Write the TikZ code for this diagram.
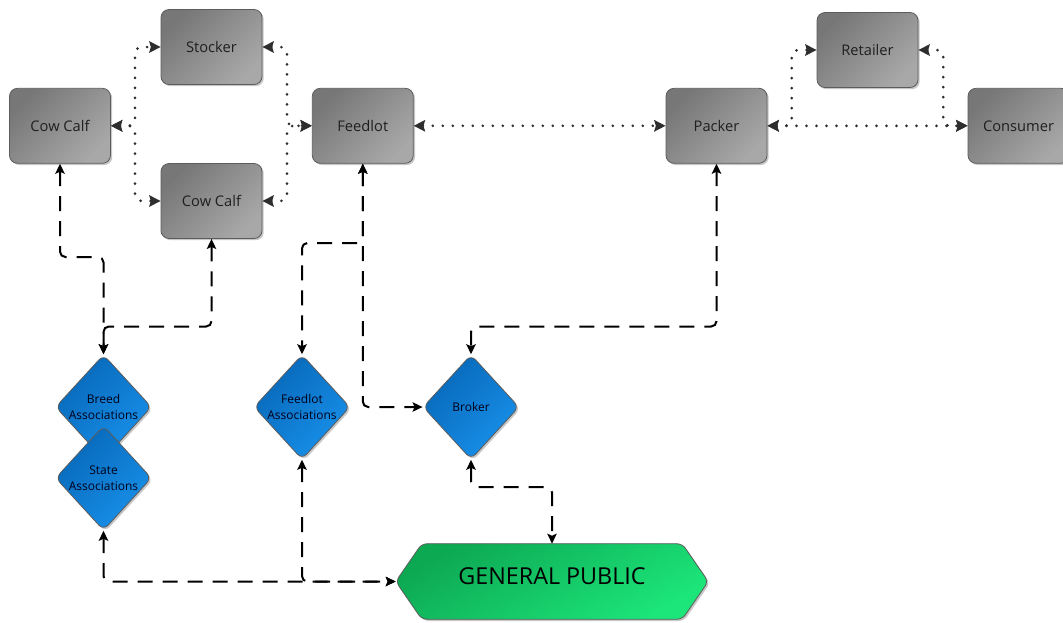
\documentclass[tikz,border=0pt]{standalone}
\usepackage{fontspec}
\setmainfont{Open Sans}
\usetikzlibrary{arrows.meta,shapes.geometric,shadows,calc}
\definecolor{boxdark}{HTML}{777777}
\definecolor{boxlight}{HTML}{A8A8A8}
\definecolor{diadark}{HTML}{0768B8}
\definecolor{dialight}{HTML}{1890EA}
\definecolor{gpdark}{HTML}{0DA852}
\definecolor{gplight}{HTML}{1CE67A}
\definecolor{edgegray}{HTML}{5C5C5C}
\definecolor{dotgray}{HTML}{2E2E2E}
\begin{document}
\begin{tikzpicture}[x=0.75pt,y=-0.75pt,
  gbox/.style={rectangle, rounded corners=6pt, draw=edgegray, line width=0.6pt,
    top color=boxdark, bottom color=boxlight, shading angle=45,
    minimum width=75.75pt, minimum height=56.25pt, inner sep=0pt,
    font=\fontsize{11}{13}\selectfont, text=black!88,
    drop shadow={shadow xshift=1.3pt, shadow yshift=-1.3pt, opacity=0.22, fill=black}},
  dia/.style={diamond, rounded corners=5pt, draw=edgegray, line width=0.6pt,
    top color=diadark, bottom color=dialight, shading angle=45,
    minimum width=72pt, minimum height=78.5pt, inner sep=0pt,
    drop shadow={shadow xshift=1.3pt, shadow yshift=-1.3pt, opacity=0.22, fill=black}},
  diatext/.style={align=center, font=\fontsize{9}{12}\selectfont, text=black!90!blue, inner sep=0pt},
  dotlink/.style={draw=dotgray, line width=2.2pt, line cap=round,
    dash pattern=on 0pt off 7.5pt, rounded corners=5pt,
    {Stealth[length=8.5pt,width=8.5pt,inset=1.2pt]}-{Stealth[length=8.5pt,width=8.5pt,inset=1.2pt]}},
  dashlink/.style={draw=black, line width=1.5pt,
    dash pattern=on 11.25pt off 7.5pt, rounded corners=4pt,
    {Stealth[length=7.5pt,width=7pt,inset=1.5pt]}-{Stealth[length=7.5pt,width=7pt,inset=1.5pt]}},
  gpshape/.style={draw=edgegray, line width=0.6pt, rounded corners=4pt,
    top color=gpdark, bottom color=gplight, shading angle=30,
    drop shadow={shadow xshift=1.3pt, shadow yshift=-1.3pt, opacity=0.22, fill=black}}
]
\useasboundingbox (0,0) rectangle (1063,622);
\clip (0,0) rectangle (1063,622);

% boxes
\node[gbox] (cc1) at (60,125.8) {Cow Calf};
\node[gbox] (st)  at (211.5,47) {Stocker};
\node[gbox] (cc2) at (211.5,201) {Cow Calf};
\node[gbox] (fl)  at (362.8,125.8) {Feedlot};
\node[gbox] (pk)  at (716.5,125.8) {Packer};
\node[gbox] (rt)  at (867.5,50) {Retailer};
\node[gbox] (cs)  at (1018.5,125.8) {Consumer};

% diamonds
\node[dia] (br) at (103.5,407) {};
\node[diatext] (brT) at (br) {Breed\\Associations};
\node[dia] (sa) at (103.5,478) {};
\node[diatext] (saT) at (sa) {State\\Associations};
\node[dia] (fa) at (302,407) {};
\node[diatext] (faT) at (fa) {Feedlot\\Associations};
\node[dia] (bk) at (471,407) {};
\node[diatext] (bkT) at (bk) {Broker};

% general public hexagon
\node[minimum width=234pt, minimum height=56.25pt, inner sep=0pt] (gp) at (552,581.5) {};
\path[gpshape] (gp.west) -- ($(gp.north west)+(26,0)$) -- ($(gp.north east)+(-26,0)$)
  -- (gp.east) -- ($(gp.south east)+(-26,0)$) -- ($(gp.south west)+(26,0)$) -- cycle;
\node[font=\fontsize{17.5}{20}\selectfont, text=black, inner sep=0pt] (gpT) at (552,576) {GENERAL PUBLIC};

% dotted connectors
\draw[dotlink] (cc1.east) -- (135,125.8) -- (135,47) -- (st.west);
\draw[dotlink] (cc1.east) -- (135,125.8) -- (135,201) -- (cc2.west);
\draw[dotlink] (st.east) -- (287,47) -- (287,125.8) -- (fl.west);
\draw[dotlink] (cc2.east) -- (287,201) -- (287,125.8) -- (fl.west);
\draw[dotlink] (fl.east) -- (pk.west);
\draw[dotlink] (pk.east) -- (cs.west);
\draw[dotlink] (pk.east) -- (791.7,125.8) -- (791.7,50) -- (rt.west);
\draw[dotlink] (rt.east) -- (943.3,50) -- (943.3,125.8) -- (cs.west);

% dashed connectors
\draw[dashlink] (cc1.south) -- (60,257) -- (103.5,257) -- (br.north);
\draw[dashlink] (cc2.south) -- (211.5,326.5) -- (103.5,326.5) -- (br.north);
\draw[dashlink] (fl.south) -- (362.8,243) -- (302,243) -- (fa.north);
\draw[dashlink] (fl.south) -- (362.8,407) -- (bk.west);
\draw[dashlink] (pk.south) -- (716.5,326.5) -- (471,326.5) -- (bk.north);
\draw[dashlink] (bk.south) -- (471,487) -- (552,487) -- (gp.north);
\draw[dashlink] (sa.south) -- (103.5,581.5) -- (gp.west);
\draw[dashlink] (fa.south) -- (302,581.5) -- (gp.west);
\end{tikzpicture}
\end{document}
